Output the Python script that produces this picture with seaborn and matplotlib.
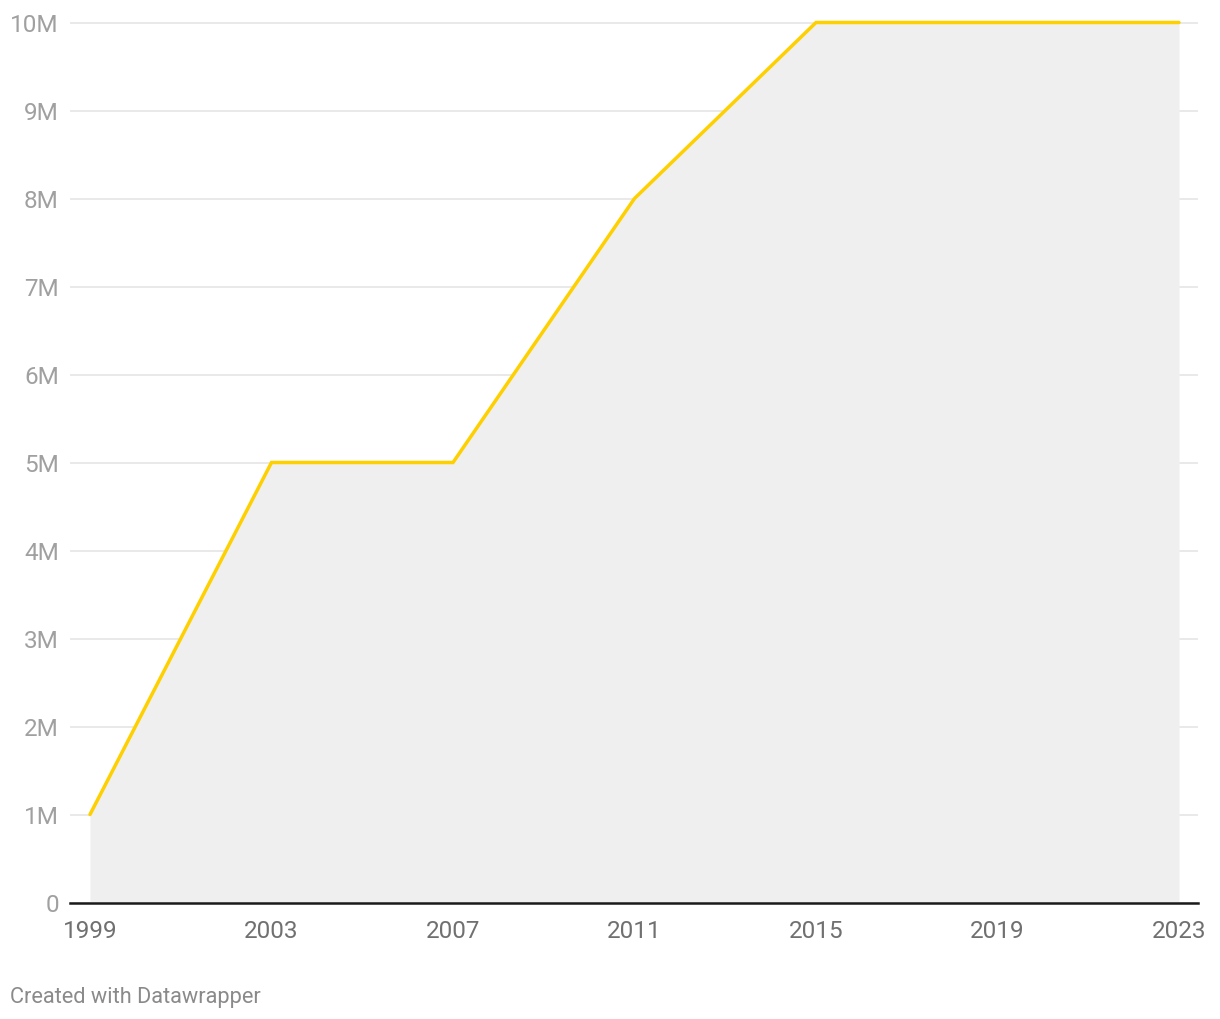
import matplotlib
matplotlib.use("Agg")
import matplotlib.pyplot as plt
import seaborn as sns
import pandas as pd

years = [1999, 2003, 2007, 2011, 2015, 2019, 2023]
values = [1_000_000, 5_000_000, 5_000_000, 8_000_000, 10_000_000, 10_000_000, 10_000_000]
y_ticks = [0, 1e6, 2e6, 3e6, 4e6, 5e6, 6e6, 7e6, 8e6, 9e6, 10e6]
y_labels = ["0", "1M", "2M", "3M", "4M", "5M", "6M", "7M", "8M", "9M", "10M"]
x_ticks = [1999, 2003, 2007, 2011, 2015, 2019, 2023]

df = pd.DataFrame({"year": years, "value": values})

sns.set_theme(style="white")
plt.rcParams["font.family"] = ["Roboto", "DejaVu Sans"]

fig = plt.figure(figsize=(12.2, 10.2), dpi=100)
ax = fig.add_axes([70 / 1220, (1020 - 903.5) / 1020, 1128 / 1220, (903.5 - 18) / 1020])

ax.fill_between(df["year"], 0, df["value"], color="#efefef", linewidth=0, zorder=1)
sns.lineplot(data=df, x="year", y="value", ax=ax, color="#ffd000", linewidth=2.5,
             zorder=3, solid_capstyle="round", solid_joinstyle="miter")

px_per_year = (1179 - 90) / 24
ax.set_xlim(1999 - 20 / px_per_year, 2023 + 19 / px_per_year)
ax.set_ylim(0, 10e6 + 5.5 / 88 * 1e6)

ax.set_yticks(y_ticks)
ax.set_yticklabels(y_labels)
ax.set_xticks(x_ticks)
ax.set_xticklabels([str(x) for x in x_ticks])

ax.grid(axis="y", color="#e3e3e3", linewidth=1.1, zorder=0)
ax.grid(axis="x", visible=False)
ax.set_axisbelow(True)

for s in ["top", "right", "left"]:
    ax.spines[s].set_visible(False)
ax.spines["bottom"].set_color("#1a1a1a")
ax.spines["bottom"].set_linewidth(1.8)
ax.spines["bottom"].set_zorder(4)

ax.tick_params(axis="y", length=0, pad=8, labelsize=17.5, labelcolor="#a0a0a0")
ax.tick_params(axis="x", length=0, pad=12, labelsize=17.5, labelcolor="#707070")
ax.set_xlabel("")
ax.set_ylabel("")

fig.text(10 / 1220, 1 - 998 / 1020, "Created with Datawrapper", fontsize=15.7,
         color="#8a8a8a", ha="left", va="center")

fig.savefig("out.png", dpi=100, facecolor="white")
